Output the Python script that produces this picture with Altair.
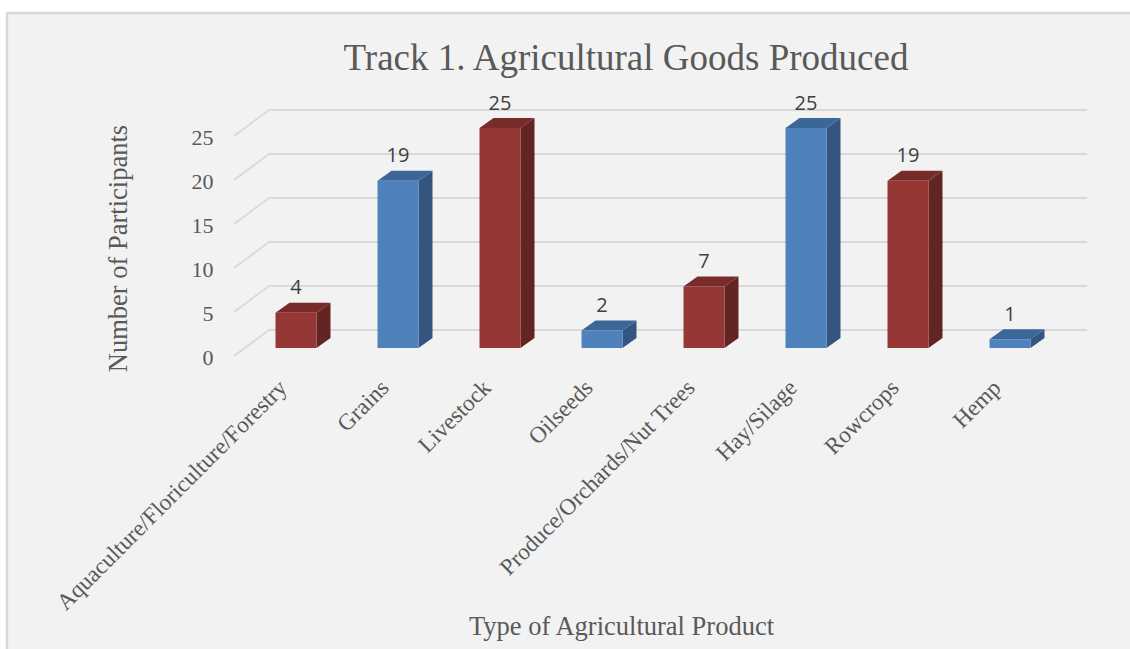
import json
import pandas as pd
import altair as alt

# ---- data ----
CATEGORIES = [
    "Aquaculture/Floriculture/Forestry",
    "Grains",
    "Livestock",
    "Oilseeds",
    "Produce/Orchards/Nut Trees",
    "Hay/Silage",
    "Rowcrops",
    "Hemp",
]
VALUES = [4, 19, 25, 2, 7, 25, 19, 1]
GROUPS = ["red", "blue", "red", "blue", "red", "blue", "red", "blue"]
Y_TICKS = [0, 5, 10, 15, 20, 25]

TITLE = "Track 1. Agricultural Goods Produced"
X_TITLE = "Type of Agricultural Product"
Y_TITLE = "Number of Participants"

# ---- layout / style constants ----
W, H = 853, 264            # plot area
LEFT, TOP = 234, 84        # plot area origin in the page
STEP_PX = 102              # px between category centres
PX_PER_UNIT = 8.8          # px per participant
FIRST_PX = 62              # px from plot left to first bar centre
HALF_BAR_PX = 20.5
DEPTH_X_PX, DEPTH_Y_PX = 14, 10

X_DOMAIN = [-FIRST_PX / STEP_PX, (W - FIRST_PX) / STEP_PX]
Y_DOMAIN = [0, H / PX_PER_UNIT]
HW = HALF_BAR_PX / STEP_PX
DXU = DEPTH_X_PX / STEP_PX
DYU = DEPTH_Y_PX / PX_PER_UNIT

FACE_KEYS = ["red-front", "red-side", "red-top", "blue-front", "blue-side", "blue-top"]
FACE_COLORS = ["#953735", "#632523", "#772c2a", "#4f81bd", "#34557f", "#3b6698"]

SERIF = "Liberation Serif"
TXT = "#595959"
GRID = "#d9d9d9"

# ---- tables built from the arrays ----
bars = pd.DataFrame({"cat": CATEGORIES, "i": list(range(len(CATEGORIES))),
                     "v": VALUES, "grp": GROUPS})
bars["left"] = bars["i"] - HW
bars["right"] = bars["i"] + HW
bars["base"] = 0
bars["front"] = bars["grp"] + "-front"

side_rows, top_rows = [], []
for _, r in bars.iterrows():
    side_rows.append({"cat": r["cat"], "sx": r["right"], "sy": r["v"], "sy2": 0,
                      "key": r["grp"] + "-side"})
    side_rows.append({"cat": r["cat"], "sx": r["right"] + DXU, "sy": r["v"] + DYU,
                      "sy2": DYU, "key": r["grp"] + "-side"})
    top_rows.append({"cat": r["cat"], "ty": r["v"], "tx": r["left"], "tx2": r["right"],
                     "key": r["grp"] + "-top"})
    top_rows.append({"cat": r["cat"], "ty": r["v"] + DYU, "tx": r["left"] + DXU,
                     "tx2": r["right"] + DXU, "key": r["grp"] + "-top"})
side = pd.DataFrame(side_rows)
top = pd.DataFrame(top_rows)
grid = pd.DataFrame({"g": Y_TICKS})

xs = alt.Scale(domain=X_DOMAIN, nice=False, zero=False)
ys = alt.Scale(domain=Y_DOMAIN, nice=False, zero=False)
cs = alt.Scale(domain=FACE_KEYS, range=FACE_COLORS)

label_expr = json.dumps(CATEGORIES) + "[datum.value]"
X_AXIS = alt.Axis(
    values=list(range(len(CATEGORIES))), labelExpr=label_expr,
    title=X_TITLE, grid=False, ticks=False, tickSize=0, domain=False, zindex=1,
    labelAngle=-45, labelAlign="right", labelBaseline="top",
    labelFont=SERIF, labelFontSize=23.2, labelColor=TXT, labelLimit=1000,
    labelPadding=28, labelOffset=-21, labelOverlap=False, labelFlush=False,
    labelBound=False,
    titleFont=SERIF, titleFontSize=26.5, titleFontWeight="normal", titleColor=TXT,
    titleX=621 - LEFT, titleY=634 - (TOP + H), titleAlign="center",
    titleBaseline="alphabetic")
Y_AXIS = alt.Axis(
    values=Y_TICKS, title=Y_TITLE, grid=False, ticks=False, tickSize=0, domain=False,
    zindex=1,
    labelFont=SERIF, labelFontSize=22, labelColor=TXT, labelPadding=21,
    labelOffset=9, labelBaseline="middle",
    titleFont=SERIF, titleFontSize=26.5, titleFontWeight="normal", titleColor=TXT,
    titleX=118 - LEFT, titleY=248 - TOP, titleAngle=270, titleAlign="center",
    titleBaseline="middle")

# background panel with border
bg = alt.Chart(pd.DataFrame({"a": [0]})).mark_rect(
    fill="#f2f2f2", stroke=GRID, strokeWidth=2.5
).encode(
    x=alt.value(7 - LEFT), x2=alt.value(1130 - LEFT + 10),
    y=alt.value(13 - TOP), y2=alt.value(649 - TOP + 10),
)

# chart title as a text mark (placed in the page)
title = alt.Chart(pd.DataFrame({"t": [TITLE]})).mark_text(
    font=SERIF, fontSize=37, color=TXT, align="center", baseline="alphabetic"
).encode(
    x=alt.value(626 - LEFT), y=alt.value(70 - TOP), text="t:N",
)

front = alt.Chart(bars).mark_rect().encode(
    x=alt.X("left:Q", scale=xs, axis=X_AXIS),
    x2="right:Q",
    y=alt.Y("base:Q", scale=ys, axis=Y_AXIS),
    y2="v:Q",
    color=alt.Color("front:N", scale=cs, legend=None),
)

# back-wall gridlines
grid_h = alt.Chart(grid).mark_rule(stroke=GRID, strokeWidth=1.8, yOffset=-18).encode(
    y=alt.Y("g:Q", scale=ys),
    x=alt.value(35), x2=alt.value(W),
)
grid_d = alt.Chart(grid).mark_rule(stroke=GRID, strokeWidth=1.8, yOffset=8, y2Offset=-18).encode(
    y=alt.Y("g:Q", scale=ys), y2="g:Q",
    x=alt.value(0), x2=alt.value(35),
)

side_l = alt.Chart(side).mark_area(opacity=1).encode(
    x=alt.X("sx:Q", scale=xs),
    y=alt.Y("sy:Q", scale=ys), y2="sy2:Q",
    detail="cat:N",
    color=alt.Color("key:N", scale=cs, legend=None),
)
top_l = alt.Chart(top).mark_area(orient="horizontal", opacity=1).encode(
    y=alt.Y("ty:Q", scale=ys),
    x=alt.X("tx:Q", scale=xs), x2="tx2:Q",
    detail="cat:N",
    color=alt.Color("key:N", scale=cs, legend=None),
)

labels = alt.Chart(bars).mark_text(
    font="Open Sans", fontSize=20, color="#404040", dy=-24.5, baseline="middle"
).encode(
    x=alt.X("i:Q", scale=xs),
    y=alt.Y("v:Q", scale=ys),
    text="v:Q",
)

# the first (hidden) front layer carries the axes; the background then covers it
chart = alt.layer(front, bg, title, grid_h, grid_d, side_l, top_l, front, labels).properties(
    width=W, height=H,
    autosize=alt.AutoSizeParams(type="none"),
    padding={"left": LEFT, "top": TOP, "right": 1130 - LEFT - W, "bottom": 649 - TOP - H},
    background="white",
).configure_view(stroke=None)

chart.save("out.html", embed_options={"renderer": "svg", "actions": False})
